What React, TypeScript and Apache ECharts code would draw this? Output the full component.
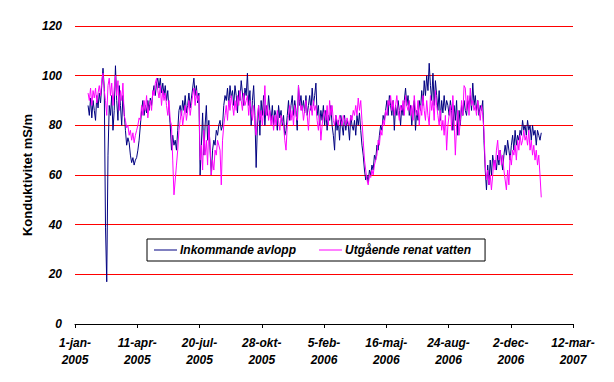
import React, { useEffect, useRef } from "react";
import * as echarts from "echarts";

// x = days since 1-jan-2005; samples every 2nd day from day 21
const START_DAY = 21;
const STEP_DAYS = 2;

const xTickLabels = [
  "1-jan-\n2005", "11-apr-\n2005", "20-jul-\n2005", "28-okt-\n2005", "5-feb-\n2006",
  "16-maj-\n2006", "24-aug-\n2006", "2-dec-\n2006", "12-mar-\n2007",
];

const seriesNames = ["Inkommande avlopp", "Utgående renat vatten"];

const inkommande = [
  88, 84, 91, 83, 90, 86, 82, 92, 87, 93,
  89, 96, 103, 95, 39, 17, 68, 88, 84, 92,
  78, 86, 104, 90, 82, 96, 88, 80, 92, 85,
  78, 72, 75, 73, 68, 65, 67, 64, 66, 67,
  70, 74, 80, 86, 90, 84, 88, 85, 90, 86,
  91, 88, 93, 96, 92, 97, 99, 95, 99, 93,
  97, 92, 96, 90, 94, 86, 80, 70, 76, 72,
  74, 70, 78, 86, 88, 84, 90, 86, 92, 85,
  88, 93, 87, 91, 95, 99, 92, 96, 89, 93,
  60, 72, 85, 68, 80, 88, 74, 82, 70, 60,
  70, 74, 72, 78, 76, 80, 82, 78, 80, 88,
  92, 90, 95, 88, 96, 91, 94, 88, 96, 92,
  85, 94, 90, 98, 93, 88, 95, 92, 101, 88,
  94, 80, 90, 96, 84, 63, 80, 88, 76, 90,
  84, 92, 80, 88, 84, 92, 86, 82, 88, 80,
  86, 84, 78, 88, 83, 86, 80, 84, 76, 78,
  84, 90, 82, 88, 92, 84, 90, 86, 78, 96,
  88, 92, 86, 90, 85, 92, 84, 88, 92, 86,
  95, 88, 92, 97, 84, 88, 80, 86, 82, 88,
  80, 86, 78, 84, 82, 88, 80, 76, 70, 84,
  78, 82, 74, 84, 80, 76, 84, 78, 82, 80,
  74, 84, 80, 78, 82, 76, 84, 80, 85, 78,
  72, 68, 62, 58, 60, 57, 62, 60, 64, 62,
  68, 66, 72, 70, 76, 80, 78, 84, 82, 86,
  90, 84, 92, 88, 84, 90, 78, 88, 84, 90,
  86, 80, 88, 84, 90, 95, 88, 92, 84, 88,
  80, 86, 90, 78, 86, 82, 90, 86, 94, 88,
  98, 92, 100, 94, 105, 96, 90, 101, 88, 98,
  92, 86, 94, 82, 90, 85, 92, 86, 90, 88,
  84, 90, 86, 78, 88, 82, 90, 76, 86, 80,
  88, 84, 90, 86, 84, 90, 88, 92, 86, 97,
  88, 92, 86, 90, 84, 88, 86, 90, 74, 62,
  54, 64, 56, 66, 60, 68, 64, 66, 62, 68,
  64, 70, 66, 62, 68, 72, 68, 74, 70, 66,
  72, 76, 70, 78, 72, 76, 74, 78, 76, 82,
  78, 80, 76, 82, 78, 80, 74, 80, 76, 78,
  72, 78, 76, 74, 77,
];

const utgaende = [
  93, 90, 95, 88, 94, 91, 95, 89, 93, 96,
  92, 98, 101, 94, 90, 84, 96, 99, 92, 97,
  88, 95, 100, 92, 98, 86, 94, 90, 97, 84,
  82, 79, 80, 76, 78, 74, 77, 73, 76, 78,
  80, 83, 82, 88, 84, 90, 86, 92, 83, 88,
  90, 86, 94, 92, 97, 99, 94, 91, 96, 88,
  94, 90, 93, 88, 84, 90, 82, 80, 66, 52,
  58, 64, 70, 78, 82, 86, 80, 84, 88, 82,
  86, 90, 84, 88, 92, 95, 88, 94, 90, 92,
  66, 72, 62, 78, 68, 74, 64, 80, 72, 60,
  66, 62, 70, 68, 74, 72, 70, 56, 74, 80,
  84, 88, 82, 90, 86, 92, 88, 84, 90, 86,
  92, 88, 94, 90, 86, 93, 88, 90, 92, 84,
  90, 86, 82, 88, 80, 76, 84, 88, 82, 86,
  80, 86, 96, 84, 88, 82, 86, 80, 84, 78,
  84, 80, 86, 82, 78, 84, 82, 80, 74, 70,
  80, 84, 88, 82, 86, 80, 88, 84, 82, 96,
  90, 86, 88, 82, 86, 90, 84, 78, 86, 88,
  84, 90, 86, 88, 82, 78, 84, 74, 80, 84,
  86, 82, 88, 80, 90, 84, 88, 82, 80, 84,
  82, 80, 84, 82, 80, 84, 82, 80, 83, 81,
  80, 84, 82, 86, 84, 88, 84, 91, 86, 90,
  82, 74, 66, 62, 58, 56, 60, 59, 62, 60,
  64, 66, 68, 74, 72, 78, 76, 82, 80, 86,
  84, 90, 88, 92, 86, 90, 84, 88, 92, 86,
  82, 88, 86, 90, 84, 92, 88, 86, 90, 84,
  88, 82, 92, 86, 84, 90, 80, 88, 84, 92,
  86, 82, 90, 84, 80, 92, 86, 90, 82, 94,
  88, 84, 80, 86, 78, 82, 76, 84, 70, 80,
  84, 88, 78, 92, 82, 68, 80, 86, 76, 82,
  90, 84, 96, 95, 86, 92, 84, 95, 88, 90,
  86, 88, 84, 90, 86, 82, 88, 84, 78, 64,
  58, 62, 56, 60, 54, 60, 66, 62, 70, 74,
  66, 70, 64, 68, 62, 58, 54, 62, 56, 68,
  64, 70, 68, 72, 66, 74, 70, 76, 72, 74,
  78, 74, 76, 72, 78, 70, 74, 68, 72, 66,
  70, 64, 68, 60, 51,
];

const FONT = "'Liberation Sans', Arial, sans-serif";

export default function App() {
  const ref = useRef<HTMLDivElement>(null);
  useEffect(() => {
    if (!ref.current) return;
    const chart = echarts.init(ref.current, undefined, { renderer: "svg" });
    const toPairs = (arr: number[]) => arr.map((v, i) => [START_DAY + i * STEP_DAYS, v]);
    chart.setOption({
      animation: false,
      backgroundColor: "#ffffff",
      grid: { left: 75, right: 41, top: 26, bottom: 58, containLabel: false },
      legend: {
        left: 147,
        top: 239,
        orient: "horizontal",
        backgroundColor: "#ffffff",
        borderColor: "#000000",
        borderWidth: 1,
        borderRadius: 0,
        padding: [5, 14, 5, 7],
        itemGap: 23,
        itemWidth: 23,
        itemHeight: 1,
        icon: "rect",
        textStyle: { fontFamily: FONT, fontSize: 12, fontWeight: "bold", fontStyle: "italic", color: "#000", padding: [0, 0, 0, -2] },
        data: [
          { name: seriesNames[0], icon: "rect", itemStyle: { color: "#000080" } },
          { name: seriesNames[1], icon: "rect", itemStyle: { color: "#ff00ff" } },
        ],
      },
      xAxis: {
        type: "value",
        min: 0,
        max: 800,
        interval: 100,
        axisLine: { show: true, lineStyle: { color: "#000", width: 1 } },
        axisTick: { show: true, length: 4, lineStyle: { color: "#000" } },
        splitLine: { show: false },
        axisLabel: {
          margin: 10,
          fontFamily: FONT,
          fontSize: 12,
          fontWeight: "bold",
          fontStyle: "italic",
          color: "#000",
          lineHeight: 17,
          formatter: (v: number) => xTickLabels[Math.round(v / 100)] ?? "",
        },
      },
      yAxis: {
        type: "value",
        min: 0,
        max: 120,
        interval: 20,
        name: "Konduktivitet mS/m",
        nameLocation: "middle",
        nameGap: 41,
        nameMoveOverlap: false,
        nameTextStyle: { fontFamily: FONT, fontSize: 13, fontWeight: "bold", color: "#000" },
        axisLine: { show: false },
        axisTick: { show: false },
        axisLabel: {
          margin: 13,
          fontFamily: FONT,
          fontSize: 12,
          fontWeight: "bold",
          fontStyle: "italic",
          color: "#000",
        },
        splitLine: { show: true, lineStyle: { color: "#ff0000", width: 1 } },
      },
      series: [
        {
          name: seriesNames[0],
          type: "line",
          symbol: "none",
          data: toPairs(inkommande),
          lineStyle: { color: "#000080", width: 1 },
          itemStyle: { color: "#000080" },
        },
        {
          name: seriesNames[1],
          type: "line",
          symbol: "none",
          data: toPairs(utgaende),
          lineStyle: { color: "#ff00ff", width: 1 },
          itemStyle: { color: "#ff00ff" },
        },
      ],
    });
    return () => chart.dispose();
  }, []);
  return (
    <div
      ref={ref}
      style={{ position: "absolute", left: 0, top: 0, width: 614, height: 382, background: "#fff" }}
    />
  );
}
